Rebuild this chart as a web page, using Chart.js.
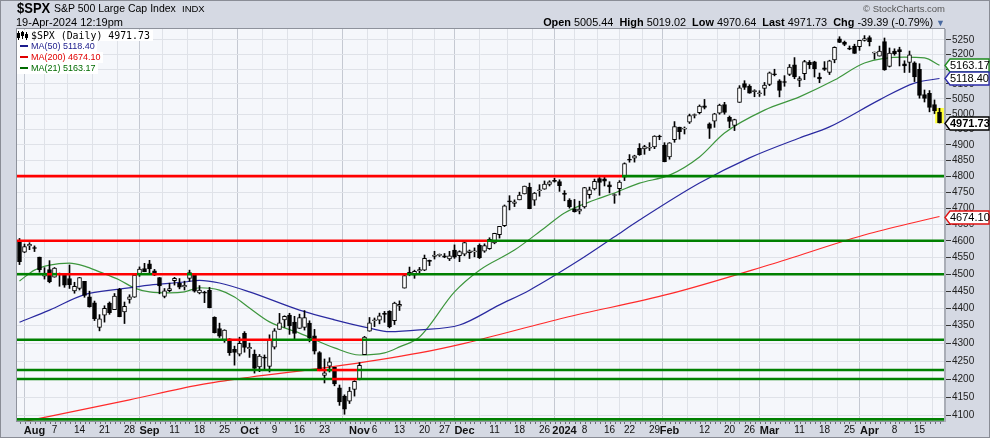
<!DOCTYPE html>
<html>
<head>
<meta charset="utf-8">
<script src="https://cdn.jsdelivr.net/npm/chart.js@4.4.1/dist/chart.umd.min.js"></script>
<style>
html, body { margin: 0; padding: 0; }
body { width: 990px; height: 438px; background: #d5d9e3; position: relative; overflow: hidden;
       font-family: Arial, "Liberation Sans", sans-serif; }
#frame { position: absolute; left: 0; top: 0; width: 988px; height: 436px; border: 1px solid #8a8d96; }
canvas { position: absolute; left: 0; top: 0; }
.t { position: absolute; white-space: nowrap; color: #000; line-height: 1; }
#legend { position: absolute; left: 17px; top: 30px; }
#legend div { height: 11px; line-height: 11px; background: #fff; display: table; padding-right: 2px; white-space: nowrap; }
#legend .mono { font-family: "DejaVu Sans Mono", monospace; font-size: 9.9px; padding-right: 3px; }
#legend .ma { font-size: 9px; }
.dash { display: inline-block; width: 8px; height: 2px; vertical-align: middle; margin: 0 3px 1px 3px; }
.ico { display: inline-block; width: 11px; height: 9px; position: relative; vertical-align: -1px; margin-right: 3px; }
.ico i { position: absolute; background: #000; }
</style>
</head>
<body>
<div id="frame"></div>
<canvas id="chart" width="990" height="438"></canvas>

<div class="t" style="left:17px;top:1px;font-size:13px;font-weight:bold;transform:scaleY(1.1);transform-origin:top left;">$SPX</div>
<div class="t" style="left:54px;top:3px;font-size:10.5px;">S&amp;P 500 Large Cap Index</div>
<div class="t" style="left:182px;top:4px;font-size:9.5px;">INDX</div>
<div class="t" style="left:16px;top:17px;font-size:11px;">19-Apr-2024 12:19pm</div>
<div class="t" style="right:45px;top:4px;font-size:9.5px;color:#555;">&#169; StockCharts.com</div>
<div class="t" style="right:45px;top:17px;font-size:10.9px;">
  <b>Open</b> 5005.44 &nbsp;<b>High</b> 5019.02 &nbsp;<b>Low</b> 4970.64 &nbsp;<b>Last</b> 4971.73 &nbsp;<b>Chg</b> -39.39 (-0.79%) <span style="color:#4a6aa0;font-size:9px;">&#9660;</span>
</div>

<div id="legend">
  <div class="mono"><span class="ico"><i style="left:1px;top:0;width:1px;height:9px"></i><i style="left:0;top:2px;width:3px;height:5px"></i><i style="left:5px;top:0;width:1px;height:8px"></i><i style="left:4px;top:1px;width:3px;height:4px"></i><i style="left:9px;top:1px;width:1px;height:8px"></i><i style="left:8px;top:3px;width:3px;height:4px"></i></span>$SPX (Daily) 4971.73</div>
  <div class="ma" style="color:#1c1c8c;"><span class="dash" style="background:#1c1c8c"></span>MA(50) 5118.40</div>
  <div class="ma" style="color:#e00000;"><span class="dash" style="background:#e00000"></span>MA(200) 4674.10</div>
  <div class="ma" style="color:#006b00;"><span class="dash" style="background:#006b00"></span>MA(21) 5163.17</div>
</div>

<script>
// Торговски дни (2023-07-27 ... 2024-04-19)
const dates = [
  '7/27','7/28','7/31',
  '8/1','8/2','8/3','8/4','8/7','8/8','8/9','8/10','8/11','8/14','8/15','8/16','8/17','8/18','8/21','8/22','8/23','8/24','8/25','8/28','8/29','8/30','8/31',
  '9/1','9/5','9/6','9/7','9/8','9/11','9/12','9/13','9/14','9/15','9/18','9/19','9/20','9/21','9/22','9/25','9/26','9/27','9/28','9/29',
  '10/2','10/3','10/4','10/5','10/6','10/9','10/10','10/11','10/12','10/13','10/16','10/17','10/18','10/19','10/20','10/23','10/24','10/25','10/26','10/27','10/30','10/31',
  '11/1','11/2','11/3','11/6','11/7','11/8','11/9','11/10','11/13','11/14','11/15','11/16','11/17','11/20','11/21','11/22','11/24','11/27','11/28','11/29','11/30',
  '12/1','12/4','12/5','12/6','12/7','12/8','12/11','12/12','12/13','12/14','12/15','12/18','12/19','12/20','12/21','12/22','12/26','12/27','12/28','12/29',
  '1/2','1/3','1/4','1/5','1/8','1/9','1/10','1/11','1/12','1/16','1/17','1/18','1/19','1/22','1/23','1/24','1/25','1/26','1/29','1/30','1/31',
  '2/1','2/2','2/5','2/6','2/7','2/8','2/9','2/12','2/13','2/14','2/15','2/16','2/20','2/21','2/22','2/23','2/26','2/27','2/28','2/29',
  '3/1','3/4','3/5','3/6','3/7','3/8','3/11','3/12','3/13','3/14','3/15','3/18','3/19','3/20','3/21','3/22','3/25','3/26','3/27','3/28',
  '4/1','4/2','4/3','4/4','4/5','4/8','4/9','4/10','4/11','4/12','4/15','4/16','4/17','4/18','4/19'
];

const opens = [
  4598.26,4565.75,4584.82,
  4578.83,4550.93,4494.27,4513.96,4491.58,4498.03,4501.57,4487.16,4450.69,4458.13,4478.87,4433.79,4416.32,4344.88,4380.28,4415.33,4396.44,4455.16,4389.38,4426.03,4432.75,4500.34,4517.01,
  4530.60,4510.06,4490.35,4434.55,4451.30,4480.98,4473.27,4462.65,4487.78,4497.98,4445.13,4445.41,4452.81,4374.36,4341.74,4310.62,4312.88,4282.63,4269.65,4328.18,
  4284.52,4269.75,4233.83,4259.31,4234.79,4289.02,4339.75,4366.59,4380.94,4360.49,4342.37,4345.23,4357.35,4321.36,4273.85,4210.40,4235.79,4232.42,4175.99,4152.93,4139.39,4171.33,
  4201.27,4268.26,4334.23,4364.27,4366.21,4384.37,4391.41,4364.15,4406.66,4458.97,4505.30,4497.08,4509.55,4511.70,4538.77,4553.04,4555.84,4554.86,4545.55,4571.84,4554.87,
  4559.43,4564.37,4566.75,4586.23,4568.84,4576.20,4593.39,4618.30,4646.20,4721.04,4714.23,4725.58,4743.72,4764.73,4724.29,4753.92,4758.86,4773.45,4786.44,4782.88,
  4745.20,4725.07,4697.42,4690.57,4703.70,4741.93,4759.94,4792.13,4791.18,4772.35,4739.13,4760.10,4796.28,4853.42,4856.80,4888.56,4886.66,4888.91,4892.95,4925.89,4899.19,
  4861.11,4916.06,4957.19,4950.16,4973.05,4995.16,5004.17,5026.83,4967.94,4976.44,5003.14,5031.13,4989.32,4963.03,5038.83,5100.92,5093.00,5074.60,5067.20,5085.36,
  5098.51,5130.99,5110.52,5108.03,5132.38,5164.46,5111.96,5134.30,5173.49,5175.14,5123.31,5154.77,5139.09,5181.69,5253.43,5242.48,5219.52,5228.85,5226.31,5248.03,
  5257.97,5204.29,5194.37,5244.05,5158.95,5211.37,5217.03,5167.88,5172.95,5171.51,5149.67,5064.59,5068.97,5031.52,5005.44
];
const highs = [
  4607.07,4590.16,4594.22,
  4584.62,4550.93,4519.49,4540.34,4519.84,4503.31,4502.44,4527.37,4476.23,4490.33,4478.87,4449.95,4421.17,4381.82,4407.55,4418.59,4443.18,4458.30,4418.46,4439.56,4500.14,4521.65,4532.26,
  4541.25,4514.29,4490.35,4457.81,4473.53,4490.77,4487.11,4479.39,4511.99,4497.98,4466.36,4449.85,4461.03,4375.70,4357.40,4338.51,4313.01,4292.07,4317.27,4333.15,
  4300.58,4281.15,4268.50,4267.13,4324.10,4341.73,4385.46,4378.64,4385.85,4377.10,4383.33,4393.57,4364.20,4339.54,4276.56,4255.84,4259.38,4232.42,4183.60,4156.70,4177.47,4195.55,
  4245.64,4319.72,4373.62,4372.21,4386.26,4391.20,4393.40,4418.03,4421.76,4502.51,4521.17,4511.99,4520.12,4557.11,4542.14,4568.43,4560.31,4561.66,4568.14,4587.64,4569.89,
  4599.39,4572.37,4578.56,4590.74,4590.92,4609.23,4622.97,4643.93,4709.69,4738.57,4725.53,4749.52,4768.69,4778.01,4748.71,4772.94,4784.72,4785.39,4793.30,4788.43,
  4754.33,4729.29,4726.78,4721.49,4764.54,4765.47,4790.80,4798.50,4802.40,4782.34,4744.23,4785.79,4842.07,4868.41,4866.48,4903.68,4898.15,4906.69,4929.31,4931.09,4906.75,
  4906.97,4975.29,4957.19,4957.77,4999.89,5000.40,5030.06,5048.39,4971.30,5002.52,5032.72,5038.70,4993.71,4983.21,5094.39,5111.06,5097.66,5080.69,5077.37,5104.99,
  5140.33,5149.67,5114.54,5127.97,5165.62,5189.26,5124.66,5179.87,5179.14,5176.85,5136.86,5175.60,5180.31,5226.19,5261.10,5246.09,5229.09,5235.16,5249.26,5264.85,
  5263.95,5208.34,5228.75,5256.59,5222.18,5219.57,5224.81,5178.43,5211.78,5175.03,5168.43,5079.84,5077.96,5046.69,5019.02
];
const lows = [
  4528.56,4564.01,4573.14,
  4567.53,4505.75,4485.54,4474.55,4491.15,4464.39,4461.33,4457.92,4443.98,4453.44,4432.19,4403.55,4364.83,4335.31,4360.30,4382.77,4396.44,4375.55,4356.29,4414.98,4431.68,4493.59,4507.39,
  4501.35,4496.01,4442.38,4430.46,4448.38,4467.89,4456.83,4453.52,4478.69,4447.21,4442.11,4416.61,4401.38,4329.17,4316.49,4302.70,4265.98,4238.63,4264.38,4274.86,
  4260.21,4216.45,4220.48,4225.91,4219.55,4283.79,4339.64,4345.34,4325.43,4311.97,4342.37,4337.54,4303.84,4269.69,4223.03,4189.22,4219.43,4181.42,4127.90,4103.78,4132.94,4153.12,
  4197.74,4268.26,4334.23,4347.53,4355.41,4359.76,4343.94,4353.34,4393.82,4458.97,4495.31,4487.83,4499.66,4510.36,4525.51,4545.05,4552.80,4549.04,4540.51,4547.15,4537.24,
  4554.71,4546.72,4551.68,4546.50,4565.22,4574.06,4590.92,4608.09,4643.23,4694.34,4704.69,4725.58,4743.72,4697.82,4708.35,4736.77,4758.45,4768.90,4780.98,4751.99,
  4722.67,4699.71,4687.53,4682.11,4699.82,4730.35,4756.20,4739.58,4768.98,4747.12,4714.82,4740.57,4785.87,4844.05,4844.37,4865.94,4869.34,4881.47,4887.40,4916.27,4845.15,
  4853.52,4907.99,4918.09,4934.88,4969.05,4987.09,5000.34,5016.83,4920.31,4956.45,4999.44,4999.52,4955.02,4946.00,5038.83,5081.46,5068.91,5057.29,5058.35,5061.89,
  5094.16,5127.18,5056.82,5092.22,5128.21,5117.50,5091.14,5114.48,5151.88,5123.30,5104.35,5145.47,5131.59,5171.55,5240.66,5229.87,5216.09,5203.42,5213.92,5245.82,
  5229.20,5184.05,5194.37,5146.06,5157.21,5197.35,5160.78,5138.70,5138.77,5107.94,5052.47,5039.83,5007.25,5001.59,4970.64
];
const closes = [
  4537.41,4582.23,4588.96,
  4576.73,4513.39,4501.89,4478.03,4518.44,4499.38,4467.71,4468.83,4464.05,4489.72,4437.86,4404.33,4370.36,4369.71,4399.77,4387.55,4436.01,4376.31,4405.71,4433.31,4497.63,4514.87,4507.66,
  4515.77,4496.83,4465.48,4451.14,4457.49,4487.46,4461.90,4467.44,4505.10,4450.32,4453.53,4443.95,4402.20,4330.00,4320.06,4337.44,4273.53,4274.51,4299.70,4288.05,
  4288.39,4229.45,4263.75,4258.19,4308.50,4335.66,4358.24,4376.95,4349.61,4327.78,4373.63,4373.20,4314.60,4278.00,4224.16,4217.04,4247.68,4186.77,4137.23,4117.37,4166.82,4193.80,
  4237.86,4317.78,4358.34,4365.98,4378.38,4382.78,4347.35,4415.24,4411.55,4495.70,4502.88,4508.24,4514.02,4547.38,4538.19,4556.62,4559.34,4550.43,4554.89,4550.58,4567.80,
  4594.63,4569.78,4567.18,4549.34,4585.59,4604.37,4622.44,4643.70,4707.09,4719.55,4719.19,4740.56,4768.37,4698.35,4746.75,4754.63,4774.75,4781.58,4783.35,4769.83,
  4742.83,4704.81,4688.68,4697.24,4763.54,4756.50,4783.45,4780.24,4783.83,4765.98,4739.21,4780.94,4839.81,4850.43,4864.60,4868.55,4894.16,4890.97,4927.93,4924.97,4845.65,
  4906.19,4958.61,4942.81,4954.23,4995.06,4997.91,5026.61,5021.84,4953.17,5000.62,5029.73,5005.57,4975.51,4981.80,5087.03,5088.80,5069.53,5078.18,5069.76,5096.27,
  5137.08,5130.95,5078.65,5104.76,5157.36,5123.69,5117.94,5175.27,5165.31,5150.48,5117.09,5149.42,5178.51,5224.62,5241.53,5234.18,5218.19,5203.58,5248.49,5254.35,
  5243.77,5205.81,5211.49,5147.21,5204.34,5202.39,5209.91,5160.64,5199.06,5123.41,5061.82,5051.41,5022.21,5011.12,4971.73
];

// Плъзгащи средни, отчетени от графиката (ден от началото -> стойност)
const ma21Days   = [0, 3, 6, 10, 13, 16, 20, 23, 26, 30, 33, 36, 40, 43, 46, 50, 56, 63, 68, 73, 76, 80, 87, 92, 99, 105, 109, 115, 119, 124, 130, 136, 141, 149, 156, 163, 169, 177, 181, 184];
const ma21Values = [4480, 4512, 4527, 4533, 4524, 4507, 4483, 4459, 4448, 4445, 4448, 4460, 4453, 4433, 4401, 4361, 4329, 4287, 4267, 4273, 4290, 4318, 4448, 4512, 4572, 4639, 4685, 4725, 4747, 4778, 4803, 4861, 4938, 5013, 5057, 5113, 5171, 5191, 5188, 5163.17];
const ma50Days   = [0, 6, 13, 20, 26, 33, 36, 40, 46, 56, 63, 70, 74, 80, 88, 96, 102, 112, 119, 124, 136, 146, 156, 162, 172, 179, 184];
const ma50Values = [4360, 4395, 4440, 4456, 4468, 4477, 4482, 4474, 4448, 4395, 4367, 4343, 4333, 4338, 4352, 4410, 4453, 4542, 4612, 4663, 4778, 4858, 4922, 4958, 5047, 5103, 5118.40];
const ma200Days   = [0, 6, 22, 36, 46, 62, 80, 89, 109, 130, 150, 170, 184];
const ma200Values = [4082, 4098, 4143, 4184, 4205, 4233, 4273, 4300, 4373, 4442, 4528, 4622, 4674.10];

// Хоризонтални нива (червено под нивото, зелено над него)
const levelValues = [4800, 4600, 4500, 4310, 4225, 4200, 4090];

// Надписи по осите
const yTickValues = [4100, 4150, 4200, 4250, 4300, 4350, 4400, 4450, 4500, 4550, 4600, 4650, 4700, 4750, 4800, 4850, 4900, 4950, 5000, 5050, 5100, 5150, 5200, 5250];
const xTickDates  = ['8/1','8/7','8/14','8/21','8/28','9/1','9/11','9/18','9/25','10/2','10/9','10/16','10/23','11/1','11/6','11/13','11/20','11/27','12/1','12/11','12/18','12/26','1/2','1/8','1/16','1/22','1/29','2/1','2/12','2/20','2/26','3/1','3/11','3/18','3/25','4/1','4/8','4/15'];
const xTickLabels = ['Aug','7','14','21','28','Sep','11','18','25','Oct','9','16','23','Nov','6','13','20','27','Dec','11','18','26','2024','8','16','22','29','Feb','12','20','26','Mar','11','18','25','Apr','8','15'];

const N = closes.length;
const X_MIN = -0.5, X_MAX = N - 0.1;
const isMajor = label => isNaN(Number(label)) || Number(label) > 31;

// Тела и фитили на свещите като плаващи колони
const bodyData = closes.map((c, i) => ({ x: i, y: [opens[i], c] }));
const wickData = closes.map((c, i) => ({ x: i, y: [lows[i], highs[i]] }));

function maLine(days, values, color) {
    return {
        type: 'line',
        data: days.map((d, i) => ({ x: d, y: values[i] })),
        borderColor: color,
        borderWidth: 1.2,
        pointRadius: 0,
        cubicInterpolationMode: 'monotone',
        fill: false,
        order: 5
    };
}

// Всяко ниво се оцветява по затварянето на съответния ден
function levelLine(level) {
    const pts = [];
    for (let i = 0; i <= N; i++) pts.push({ x: i - 0.5, y: level });
    pts.push({ x: X_MAX, y: level });
    return {
        type: 'line',
        data: pts,
        borderWidth: 2.6,
        pointRadius: 0,
        fill: false,
        order: 0,
        segment: {
            borderColor: ctx => closes[Math.min(ctx.p0DataIndex, N - 1)] < level ? '#ff0000' : '#008000'
        }
    };
}

const bgPlugin = {
    id: 'bg',
    beforeDraw(chart) {
        const { ctx, chartArea: a } = chart;
        ctx.save();
        ctx.fillStyle = '#f5f7fb';
        ctx.fillRect(a.left, a.top, a.right - a.left, a.bottom - a.top);
        ctx.restore();
    },
    afterDraw(chart) {
        const { ctx, chartArea: a } = chart;
        const xs = chart.scales.x, ys = chart.scales.y;
        ctx.save();
        // рамка на графиката
        ctx.strokeStyle = '#8e929c';
        ctx.lineWidth = 1;
        ctx.strokeRect(a.left - 0.5, a.top - 0.5, a.right - a.left + 1, a.bottom - a.top + 1);
        ctx.fillStyle = '#a9adb6';
        ctx.fillRect(a.right, a.top, 2, a.bottom - a.top + 1);
        // дневни чертички под оста
        ctx.fillStyle = '#6a6d75';
        for (let i = 0; i < N; i++) {
            const px = Math.round(xs.getPixelForValue(i));
            ctx.fillRect(px, a.bottom + 1, 1, 2);
        }
        // етикети с последните стойности вдясно
        const tags = [
            [ma21Values[ma21Values.length - 1], '#1d8a1d', false],
            [ma50Values[ma50Values.length - 1], '#2a2aa8', false],
            [closes[N - 1], '#000000', true],
            [ma200Values[ma200Values.length - 1], '#e01010', false]
        ];
        tags.forEach(([v, color, bold]) => {
            const y = Math.round(ys.getPixelForValue(v)) + 0.5;
            const x0 = a.right + 1, h = 6.5;
            ctx.beginPath();
            ctx.moveTo(x0, y);
            ctx.lineTo(x0 + 5, y - h);
            ctx.lineTo(989, y - h);
            ctx.lineTo(989, y + h);
            ctx.lineTo(x0 + 5, y + h);
            ctx.closePath();
            ctx.fillStyle = '#ffffff';
            ctx.fill();
            ctx.strokeStyle = color;
            ctx.lineWidth = 1.3;
            ctx.stroke();
            ctx.fillStyle = '#000';
            ctx.font = (bold ? 'bold ' : '') + '11px Arial, "Liberation Sans", sans-serif';
            ctx.textBaseline = 'middle';
            ctx.textAlign = 'left';
            ctx.fillText(v.toFixed(2), x0 + 5, y + 0.5);
        });
        ctx.restore();
    }
};

new Chart(document.getElementById('chart'), {
    type: 'bar',
    data: {
        datasets: [
            {
                data: bodyData,
                backgroundColor: ctx => closes[ctx.dataIndex] >= opens[ctx.dataIndex] ? '#ffffff' : '#000000',
                borderColor: '#000000',
                borderWidth: 1,
                borderSkipped: false,
                barThickness: 4,
                minBarLength: 1,
                grouped: false,
                order: 1
            },
            {
                data: wickData,
                backgroundColor: '#000000',
                barThickness: 1,
                grouped: false,
                order: 2
            },
            {
                data: [{ x: N - 1, y: [lows[N - 1], highs[N - 1]] }],
                backgroundColor: '#ffff33',
                barThickness: 8,
                grouped: false,
                order: 3
            },
            maLine(ma200Days, ma200Values, '#ff2a2a'),
            maLine(ma50Days, ma50Values, '#2a2aa0'),
            maLine(ma21Days, ma21Values, '#3d963d'),
            ...levelValues.map(levelLine)
        ]
    },
    options: {
        responsive: false,
        animation: false,
        devicePixelRatio: 1,
        events: [],
        layout: { padding: { left: 17, top: 29, right: 0, bottom: 0 } },
        plugins: { legend: { display: false }, tooltip: { enabled: false } },
        scales: {
            x: {
                type: 'linear',
                min: X_MIN,
                max: X_MAX,
                offset: false,
                afterBuildTicks: s => { s.ticks = xTickDates.map(d => ({ value: dates.indexOf(d) })); },
                afterFit: s => { s.height = 17; },
                border: { display: false },
                grid: {
                    drawTicks: false,
                    color: ctx => (ctx.tick && isMajor(xTickLabels[ctx.index])) ? '#c5c9d2' : '#dfe2e8'
                },
                ticks: {
                    autoSkip: false,
                    maxRotation: 0,
                    padding: 3,
                    color: '#111',
                    font: ctx => isMajor(xTickLabels[ctx.index] || '')
                        ? { family: 'Arial, "Liberation Sans", sans-serif', size: 11, weight: 'bold' }
                        : { family: 'Arial, "Liberation Sans", sans-serif', size: 10 },
                    callback: (v, i) => xTickLabels[i]
                }
            },
            y: {
                type: 'logarithmic',
                position: 'right',
                min: 4085.7,
                max: 5287.8,
                afterBuildTicks: s => { s.ticks = yTickValues.map(v => ({ value: v })); },
                afterFit: s => { s.width = 46; },
                border: { display: false },
                grid: { color: '#dfe2e8', drawTicks: true, tickLength: 7, tickColor: '#333' },
                ticks: {
                    autoSkip: false,
                    padding: 1,
                    color: '#222',
                    font: { family: 'Arial, "Liberation Sans", sans-serif', size: 10 },
                    callback: v => String(v)
                }
            }
        }
    },
    plugins: [bgPlugin]
});
</script>
</body>
</html>
